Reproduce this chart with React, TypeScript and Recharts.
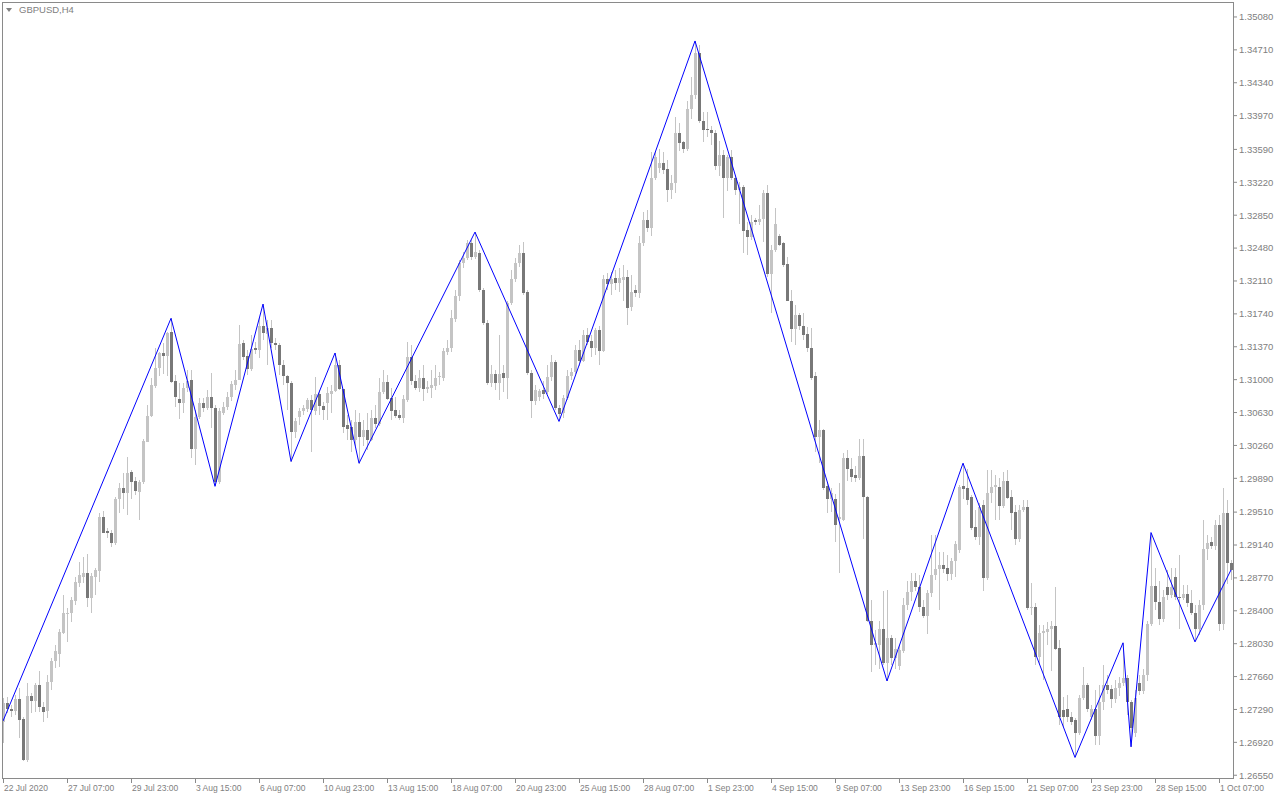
import { Bar, ComposedChart, Line, XAxis, YAxis } from "recharts"

// GBPUSD H4 candles, 22 Jul 2020 .. 1 Oct 2020
const opens = [
    1.2715, 1.2736, 1.2730, 1.2727, 1.2741, 1.2718, 1.2672, 1.2744, 1.2738, 1.2757,
    1.2732, 1.2727, 1.2760, 1.2783, 1.2791, 1.2815, 1.2837, 1.2837, 1.2851, 1.2871,
    1.2878, 1.2883, 1.2854, 1.2878, 1.2885, 1.2946, 1.2930, 1.2927, 1.2916, 1.2966,
    1.2978, 1.2972, 1.2996, 1.2986, 1.2974, 1.2985, 1.3030, 1.3059, 1.3093, 1.3113,
    1.3130, 1.3127, 1.3154, 1.3098, 1.3078, 1.3074, 1.3091, 1.3100, 1.3022, 1.3058,
    1.3074, 1.3068, 1.3080, 1.3068, 1.2985, 1.3063, 1.3069, 1.3080, 1.3094, 1.3100,
    1.3141, 1.3127, 1.3112, 1.3136, 1.3133, 1.3160, 1.3151, 1.3158, 1.3141, 1.3139,
    1.3116, 1.3104, 1.3096, 1.3041, 1.3058, 1.3065, 1.3067, 1.3077, 1.3065, 1.3084,
    1.3070, 1.3074, 1.3084, 1.3087, 1.3117, 1.3089, 1.3049, 1.3047, 1.3032, 1.3052,
    1.3035, 1.3043, 1.3032, 1.3057, 1.3050, 1.3086, 1.3097, 1.3079, 1.3066, 1.3060,
    1.3057, 1.3077, 1.3125, 1.3099, 1.3091, 1.3102, 1.3089, 1.3091, 1.3093, 1.3103,
    1.3102, 1.3131, 1.3136, 1.3168, 1.3194, 1.3231, 1.3237, 1.3254, 1.3238, 1.3243,
    1.3201, 1.3164, 1.3096, 1.3106, 1.3096, 1.3107, 1.3102, 1.3186, 1.3213, 1.3231,
    1.3243, 1.3199, 1.3107, 1.3076, 1.3081, 1.3088, 1.3086, 1.3103, 1.3120, 1.3068,
    1.3062, 1.3079, 1.3104, 1.3109, 1.3133, 1.3121, 1.3150, 1.3143, 1.3136, 1.3156,
    1.3132, 1.3213, 1.3208, 1.3214, 1.3209, 1.3212, 1.3215, 1.3182, 1.3201, 1.3197,
    1.3254, 1.3280, 1.3271, 1.3327, 1.3338, 1.3344, 1.3337, 1.3313, 1.3321, 1.3377,
    1.3367, 1.3359, 1.3404, 1.3420, 1.3467, 1.3391, 1.3382, 1.3381, 1.3377, 1.3340,
    1.3353, 1.3327, 1.3350, 1.3327, 1.3313, 1.3317, 1.3268, 1.3260, 1.3280, 1.3277,
    1.3281, 1.3310, 1.3219, 1.3246, 1.3262, 1.3254, 1.3230, 1.3189, 1.3157, 1.3173,
    1.3160, 1.3151, 1.3136, 1.3104, 1.3035, 1.3043, 1.2980, 1.2966, 1.2966, 1.2943,
    1.2942, 1.3012, 1.3000, 1.2993, 1.2989, 1.3014, 1.2968, 1.2828, 1.2801, 1.2801,
    1.2819, 1.2781, 1.2809, 1.2787, 1.2778, 1.2795, 1.2846, 1.2861, 1.2873, 1.2867,
    1.2844, 1.2834, 1.2860, 1.2880, 1.2887, 1.2891, 1.2888, 1.2881, 1.2896, 1.2908,
    1.2980, 1.2978, 1.2968, 1.2934, 1.2923, 1.2959, 1.2877, 1.2972, 1.2979, 1.2979,
    1.2958, 1.2986, 1.2968, 1.2951, 1.2921, 1.2953, 1.2957, 1.2843, 1.2844, 1.2788,
    1.2815, 1.2816, 1.2819, 1.2823, 1.2798, 1.2728, 1.2729, 1.2720, 1.2717, 1.2702,
    1.2742, 1.2756, 1.2721, 1.2730, 1.2699, 1.2737, 1.2756, 1.2752, 1.2741, 1.2753,
    1.2759, 1.2764, 1.2737, 1.2702, 1.2759, 1.2750, 1.2768, 1.2825, 1.2868, 1.2850,
    1.2831, 1.2867, 1.2858, 1.2878, 1.2856, 1.2854, 1.2859, 1.2849, 1.2838, 1.2819,
    1.2847, 1.2910, 1.2917, 1.2913, 1.2937, 1.2825, 1.2950, 1.2894,
]

const highs = [
    1.2742, 1.2743, 1.2734, 1.2745, 1.2753, 1.2720, 1.2759, 1.2748, 1.2759, 1.2772,
    1.2737, 1.2768, 1.2787, 1.2801, 1.2820, 1.2858, 1.2843, 1.2855, 1.2878, 1.2895,
    1.2900, 1.2904, 1.2882, 1.2888, 1.2950, 1.2952, 1.2933, 1.2931, 1.2968, 1.2984,
    1.2995, 1.3013, 1.2998, 1.2990, 1.2987, 1.3033, 1.3071, 1.3102, 1.3136, 1.3131,
    1.3141, 1.3154, 1.3169, 1.3105, 1.3096, 1.3096, 1.3111, 1.3111, 1.3066, 1.3079,
    1.3079, 1.3088, 1.3107, 1.3071, 1.3068, 1.3075, 1.3086, 1.3099, 1.3111, 1.3161,
    1.3145, 1.3133, 1.3150, 1.3142, 1.3169, 1.3185, 1.3167, 1.3167, 1.3147, 1.3141,
    1.3122, 1.3105, 1.3099, 1.3057, 1.3068, 1.3071, 1.3079, 1.3083, 1.3103, 1.3088,
    1.3075, 1.3092, 1.3094, 1.3130, 1.3122, 1.3090, 1.3060, 1.3055, 1.3066, 1.3063,
    1.3055, 1.3063, 1.3066, 1.3071, 1.3102, 1.3111, 1.3105, 1.3091, 1.3081, 1.3066,
    1.3083, 1.3142, 1.3139, 1.3105, 1.3111, 1.3116, 1.3099, 1.3111, 1.3116, 1.3109,
    1.3136, 1.3145, 1.3178, 1.3201, 1.3235, 1.3244, 1.3257, 1.3257, 1.3266, 1.3246,
    1.3203, 1.3167, 1.3116, 1.3111, 1.3150, 1.3116, 1.3189, 1.3223, 1.3237, 1.3251,
    1.3255, 1.3201, 1.3111, 1.3094, 1.3090, 1.3099, 1.3116, 1.3128, 1.3122, 1.3071,
    1.3083, 1.3111, 1.3113, 1.3139, 1.3145, 1.3156, 1.3158, 1.3150, 1.3158, 1.3160,
    1.3218, 1.3220, 1.3221, 1.3223, 1.3226, 1.3229, 1.3223, 1.3218, 1.3206, 1.3262,
    1.3289, 1.3291, 1.3356, 1.3356, 1.3360, 1.3356, 1.3347, 1.3330, 1.3395, 1.3389,
    1.3369, 1.3414, 1.3441, 1.3481, 1.3476, 1.3401, 1.3401, 1.3385, 1.3381, 1.3369,
    1.3358, 1.3353, 1.3358, 1.3330, 1.3322, 1.3319, 1.3277, 1.3285, 1.3282, 1.3296,
    1.3313, 1.3319, 1.3251, 1.3293, 1.3264, 1.3255, 1.3238, 1.3201, 1.3184, 1.3175,
    1.3175, 1.3159, 1.3158, 1.3109, 1.3055, 1.3045, 1.2985, 1.2978, 1.2971, 1.2984,
    1.3017, 1.3021, 1.3012, 1.3003, 1.3033, 1.3033, 1.2969, 1.2852, 1.2818, 1.2829,
    1.2862, 1.2863, 1.2813, 1.2809, 1.2801, 1.2854, 1.2874, 1.2883, 1.2883, 1.2880,
    1.2852, 1.2863, 1.2925, 1.2925, 1.2906, 1.2906, 1.2903, 1.2899, 1.2919, 1.2982,
    1.3006, 1.3000, 1.2970, 1.2953, 1.2961, 1.2965, 1.2998, 1.2998, 1.2993, 1.2989,
    1.2996, 1.2998, 1.2976, 1.2959, 1.2959, 1.2965, 1.2965, 1.2871, 1.2849, 1.2824,
    1.2824, 1.2827, 1.2829, 1.2867, 1.2807, 1.2743, 1.2745, 1.2726, 1.2719, 1.2745,
    1.2777, 1.2759, 1.2734, 1.2751, 1.2756, 1.2779, 1.2768, 1.2756, 1.2762, 1.2766,
    1.2804, 1.2768, 1.2740, 1.2751, 1.2768, 1.2775, 1.2829, 1.2928, 1.2888, 1.2874,
    1.2863, 1.2886, 1.2888, 1.2888, 1.2903, 1.2869, 1.2869, 1.2863, 1.2846, 1.2852,
    1.2942, 1.2925, 1.2923, 1.2942, 1.2948, 1.2978, 1.2965, 1.2897,
]

const lows = [
    1.2691, 1.2725, 1.2720, 1.2723, 1.2697, 1.2670, 1.2670, 1.2726, 1.2726, 1.2726,
    1.2715, 1.2720, 1.2751, 1.2775, 1.2777, 1.2814, 1.2805, 1.2827, 1.2847, 1.2867,
    1.2871, 1.2844, 1.2837, 1.2858, 1.2872, 1.2927, 1.2922, 1.2912, 1.2914, 1.2950,
    1.2954, 1.2948, 1.2965, 1.2970, 1.2942, 1.2982, 1.3029, 1.3058, 1.3091, 1.3104,
    1.3106, 1.3105, 1.3096, 1.3069, 1.3056, 1.3062, 1.3086, 1.3012, 1.3004, 1.3055,
    1.3063, 1.3066, 1.3045, 1.2980, 1.2982, 1.3060, 1.3066, 1.3077, 1.3088, 1.3099,
    1.3122, 1.3105, 1.3109, 1.3128, 1.3124, 1.3145, 1.3116, 1.3136, 1.3133, 1.3105,
    1.3094, 1.3066, 1.3008, 1.3035, 1.3049, 1.3060, 1.3063, 1.3019, 1.3060, 1.3060,
    1.3055, 1.3055, 1.3062, 1.3086, 1.3088, 1.3040, 1.3032, 1.3019, 1.3026, 1.3006,
    1.3026, 1.3021, 1.3031, 1.3045, 1.3048, 1.3084, 1.3077, 1.3055, 1.3057, 1.3055,
    1.3052, 1.3075, 1.3094, 1.3088, 1.3086, 1.3075, 1.3086, 1.3080, 1.3088, 1.3094,
    1.3099, 1.3128, 1.3131, 1.3165, 1.3189, 1.3226, 1.3235, 1.3235, 1.3236, 1.3199,
    1.3161, 1.3094, 1.3091, 1.3088, 1.3077, 1.3086, 1.3079, 1.3184, 1.3210, 1.3226,
    1.3195, 1.3105, 1.3057, 1.3071, 1.3077, 1.3079, 1.3083, 1.3099, 1.3066, 1.3053,
    1.3057, 1.3077, 1.3099, 1.3106, 1.3116, 1.3120, 1.3139, 1.3125, 1.3128, 1.3116,
    1.3131, 1.3201, 1.3195, 1.3201, 1.3199, 1.3189, 1.3161, 1.3178, 1.3193, 1.3192,
    1.3251, 1.3266, 1.3262, 1.3324, 1.3333, 1.3331, 1.3300, 1.3303, 1.3310, 1.3358,
    1.3356, 1.3358, 1.3394, 1.3416, 1.3388, 1.3367, 1.3373, 1.3364, 1.3336, 1.3330,
    1.3282, 1.3313, 1.3324, 1.3308, 1.3275, 1.3243, 1.3240, 1.3257, 1.3274, 1.3274,
    1.3254, 1.3216, 1.3174, 1.3244, 1.3250, 1.3227, 1.3188, 1.3142, 1.3139, 1.3156,
    1.3145, 1.3131, 1.3099, 1.3019, 1.3007, 1.2976, 1.2950, 1.2951, 1.2917, 1.2883,
    1.2940, 1.2986, 1.2985, 1.2985, 1.2987, 1.2921, 1.2827, 1.2771, 1.2779, 1.2775,
    1.2779, 1.2761, 1.2779, 1.2774, 1.2773, 1.2792, 1.2841, 1.2852, 1.2863, 1.2838,
    1.2832, 1.2814, 1.2855, 1.2874, 1.2841, 1.2882, 1.2874, 1.2874, 1.2879, 1.2906,
    1.2965, 1.2959, 1.2931, 1.2919, 1.2914, 1.2863, 1.2874, 1.2961, 1.2942, 1.2942,
    1.2955, 1.2965, 1.2931, 1.2914, 1.2917, 1.2951, 1.2841, 1.2835, 1.2779, 1.2779,
    1.2762, 1.2801, 1.2773, 1.2796, 1.2711, 1.2709, 1.2715, 1.2711, 1.2675, 1.2700,
    1.2740, 1.2726, 1.2717, 1.2689, 1.2689, 1.2728, 1.2747, 1.2730, 1.2736, 1.2745,
    1.2756, 1.2723, 1.2687, 1.2698, 1.2745, 1.2747, 1.2762, 1.2823, 1.2841, 1.2824,
    1.2827, 1.2852, 1.2854, 1.2852, 1.2820, 1.2852, 1.2844, 1.2835, 1.2805, 1.2813,
    1.2841, 1.2897, 1.2910, 1.2908, 1.2818, 1.2818, 1.2871, 1.2874,
]

const closes = [
    1.2736, 1.2730, 1.2727, 1.2741, 1.2717, 1.2672, 1.2744, 1.2738, 1.2757, 1.2732,
    1.2726, 1.2760, 1.2783, 1.2795, 1.2816, 1.2837, 1.2838, 1.2852, 1.2872, 1.2880,
    1.2883, 1.2854, 1.2879, 1.2886, 1.2946, 1.2928, 1.2927, 1.2916, 1.2966, 1.2978,
    1.2972, 1.2995, 1.2985, 1.2975, 1.2985, 1.3031, 1.3059, 1.3094, 1.3113, 1.3130,
    1.3127, 1.3153, 1.3097, 1.3080, 1.3074, 1.3091, 1.3099, 1.3022, 1.3058, 1.3074,
    1.3068, 1.3080, 1.3068, 1.2985, 1.3065, 1.3069, 1.3080, 1.3095, 1.3100, 1.3140,
    1.3125, 1.3112, 1.3134, 1.3133, 1.3160, 1.3153, 1.3158, 1.3141, 1.3139, 1.3116,
    1.3104, 1.3096, 1.3041, 1.3053, 1.3065, 1.3068, 1.3077, 1.3066, 1.3084, 1.3070,
    1.3066, 1.3085, 1.3087, 1.3117, 1.3089, 1.3047, 1.3045, 1.3032, 1.3052, 1.3035,
    1.3043, 1.3032, 1.3057, 1.3050, 1.3086, 1.3097, 1.3078, 1.3065, 1.3059, 1.3057,
    1.3078, 1.3125, 1.3099, 1.3091, 1.3102, 1.3089, 1.3092, 1.3094, 1.3102, 1.3104,
    1.3132, 1.3136, 1.3169, 1.3194, 1.3231, 1.3237, 1.3254, 1.3238, 1.3244, 1.3201,
    1.3164, 1.3096, 1.3106, 1.3096, 1.3106, 1.3102, 1.3186, 1.3213, 1.3231, 1.3243,
    1.3197, 1.3107, 1.3076, 1.3088, 1.3087, 1.3084, 1.3103, 1.3120, 1.3068, 1.3061,
    1.3079, 1.3104, 1.3109, 1.3133, 1.3121, 1.3150, 1.3142, 1.3136, 1.3156, 1.3132,
    1.3213, 1.3208, 1.3213, 1.3209, 1.3214, 1.3215, 1.3181, 1.3199, 1.3197, 1.3254,
    1.3280, 1.3271, 1.3327, 1.3351, 1.3344, 1.3336, 1.3313, 1.3321, 1.3377, 1.3366,
    1.3359, 1.3404, 1.3420, 1.3467, 1.3391, 1.3381, 1.3381, 1.3377, 1.3340, 1.3353,
    1.3327, 1.3350, 1.3327, 1.3313, 1.3317, 1.3267, 1.3260, 1.3277, 1.3277, 1.3281,
    1.3310, 1.3219, 1.3246, 1.3275, 1.3252, 1.3229, 1.3189, 1.3157, 1.3173, 1.3160,
    1.3150, 1.3136, 1.3102, 1.3035, 1.3043, 1.2978, 1.2966, 1.2972, 1.2937, 1.2946,
    1.3012, 1.3000, 1.2991, 1.2989, 1.3014, 1.2968, 1.2828, 1.2801, 1.2804, 1.2819,
    1.2781, 1.2809, 1.2787, 1.2797, 1.2796, 1.2846, 1.2861, 1.2873, 1.2867, 1.2844,
    1.2834, 1.2860, 1.2880, 1.2887, 1.2891, 1.2887, 1.2881, 1.2896, 1.2915, 1.2979,
    1.2977, 1.2965, 1.2933, 1.2923, 1.2957, 1.2877, 1.2972, 1.2979, 1.2982, 1.2958,
    1.2986, 1.2967, 1.2950, 1.2921, 1.2953, 1.2957, 1.2843, 1.2844, 1.2788, 1.2815,
    1.2817, 1.2820, 1.2823, 1.2797, 1.2720, 1.2720, 1.2720, 1.2715, 1.2702, 1.2742,
    1.2756, 1.2730, 1.2730, 1.2699, 1.2737, 1.2756, 1.2751, 1.2741, 1.2753, 1.2759,
    1.2764, 1.2737, 1.2708, 1.2742, 1.2750, 1.2768, 1.2825, 1.2868, 1.2850, 1.2831,
    1.2856, 1.2858, 1.2867, 1.2855, 1.2854, 1.2859, 1.2849, 1.2838, 1.2819, 1.2847,
    1.2910, 1.2916, 1.2913, 1.2937, 1.2825, 1.2950, 1.2894, 1.2886,
]

// zigzag turning points: bar index and price
const zigzagBars = [0, 42, 53, 65, 72, 83, 89, 118, 139, 173, 221, 240, 268, 280, 282, 287, 298, 307]
const zigzagPrices = [
    1.2716, 1.3169, 1.2980, 1.3185, 1.3008, 1.3130, 1.3006, 1.3266, 1.3053,
    1.3481, 1.2761, 1.3006, 1.2675, 1.2804, 1.2687, 1.2928, 1.2805, 1.2886,
]

// one time label every 16 bars
const timeLabels = [
    "22 Jul 2020", "27 Jul 07:00", "29 Jul 23:00", "3 Aug 15:00", "6 Aug 07:00",
    "10 Aug 23:00", "13 Aug 15:00", "18 Aug 07:00", "20 Aug 23:00", "25 Aug 15:00",
    "28 Aug 07:00", "1 Sep 23:00", "4 Sep 15:00", "9 Sep 07:00", "13 Sep 23:00",
    "16 Sep 15:00", "21 Sep 07:00", "23 Sep 23:00", "28 Sep 15:00", "1 Oct 07:00",
]
const labelStep = 16

const priceTicks = [
    1.2655, 1.2692, 1.2729, 1.2766, 1.2803, 1.2840, 1.2877, 1.2914, 1.2951, 1.2989,
    1.3026, 1.3063, 1.3100, 1.3137, 1.3174, 1.3211, 1.3248, 1.3285, 1.3322, 1.3359,
    1.3397, 1.3434, 1.3471, 1.3508,
]

const bullColor = "#c4c4c4"
const bearColor = "#787878"
const wickColor = "#c4c4c4"
const textColor = "#808080"
const frameColor = "#8a8a8a"
const font = "'Liberation Sans', Arial, sans-serif"

const zigzag = new Map(zigzagBars.map((b, k) => [b, zigzagPrices[k]]))

const chartData = opens.map((open, i) => ({
    bar: i,
    open,
    high: highs[i],
    low: lows[i],
    close: closes[i],
    zz: zigzag.has(i) ? zigzag.get(i) : null,
}))

const Candle = (props: any) => {
    const { x, y, width, height, payload } = props
    if (!payload) return null
    const { open, high, low, close } = payload
    const top = Math.min(y, y + height)
    const h = Math.abs(height)
    const toY = (p: number) => top + (high === low ? 0 : ((high - p) / (high - low)) * h)
    const cx = Math.floor(x + width / 2)
    const bodyTop = Math.round(toY(Math.max(open, close)))
    const bodyBottom = Math.round(toY(Math.min(open, close)))

    return (
        <g>
            <rect x={cx} y={Math.round(top)} width={1} height={Math.max(1, Math.round(h))} fill={wickColor} />
            <rect
                x={cx - 1}
                y={bodyTop}
                width={3}
                height={Math.max(1, bodyBottom - bodyTop)}
                fill={close >= open ? bullColor : bearColor}
            />
        </g>
    )
}

const TimeTick = (props: any) => {
    const { x, y, payload } = props
    const idx = Number(payload?.value)
    if (idx % labelStep !== 0) return <g />
    const label = timeLabels[idx / labelStep]
    if (!label) return <g />
    const px = Math.floor(x)

    return (
        <g>
            <line x1={px + 0.5} x2={px + 0.5} y1={y} y2={y + 5} stroke={frameColor} />
            <text x={px + 1} y={y + 13} fill={textColor} fontSize={8.5} fontFamily={font}>
                {label}
            </text>
        </g>
    )
}

export default function App() {
    return (
        <div style={{ position: "absolute", left: 0, top: 0, width: 1280, height: 800, background: "#fff" }}>
            <ComposedChart
                width={1280}
                height={800}
                data={chartData}
                margin={{ top: 3, right: 0, bottom: 0, left: 1 }}
                barCategoryGap={0}
            >
                <XAxis
                    dataKey="bar"
                    interval={0}
                    height={22}
                    axisLine={false}
                    tickLine={false}
                    tickSize={0}
                    tickMargin={0}
                    tick={<TimeTick />}
                />
                <YAxis
                    orientation="right"
                    width={47}
                    type="number"
                    domain={[1.26519, 1.35237]}
                    allowDataOverflow
                    ticks={priceTicks}
                    interval={0}
                    axisLine={false}
                    tickLine={{ stroke: frameColor }}
                    tickSize={4}
                    tickMargin={2}
                    tickFormatter={(v: number) => v.toFixed(5)}
                    tick={{ fontSize: 9.5, fill: textColor, fontFamily: font }}
                />
                <Bar
                    dataKey={(d: any) => [d.low, d.high]}
                    shape={<Candle />}
                    isAnimationActive={false}
                />
                <Line
                    type="linear"
                    dataKey="zz"
                    stroke="#0000ff"
                    strokeWidth={1}
                    dot={false}
                    activeDot={false}
                    connectNulls
                    isAnimationActive={false}
                />
            </ComposedChart>

            <div
                style={{
                    position: "absolute",
                    left: 2,
                    top: 2,
                    width: 1232,
                    height: 777,
                    boxSizing: "border-box",
                    border: `1px solid ${frameColor}`,
                    pointerEvents: "none",
                }}
            />
            <div
                style={{
                    position: "absolute",
                    left: 6,
                    top: 4,
                    display: "flex",
                    alignItems: "center",
                    gap: 7,
                    fontFamily: font,
                    fontSize: 9.5,
                    lineHeight: "12px",
                    color: textColor,
                }}
            >
                <svg width={6} height={4}>
                    <polygon points="0,0 6,0 3,4" fill={textColor} />
                </svg>
                <span>GBPUSD,H4</span>
            </div>
        </div>
    )
}
